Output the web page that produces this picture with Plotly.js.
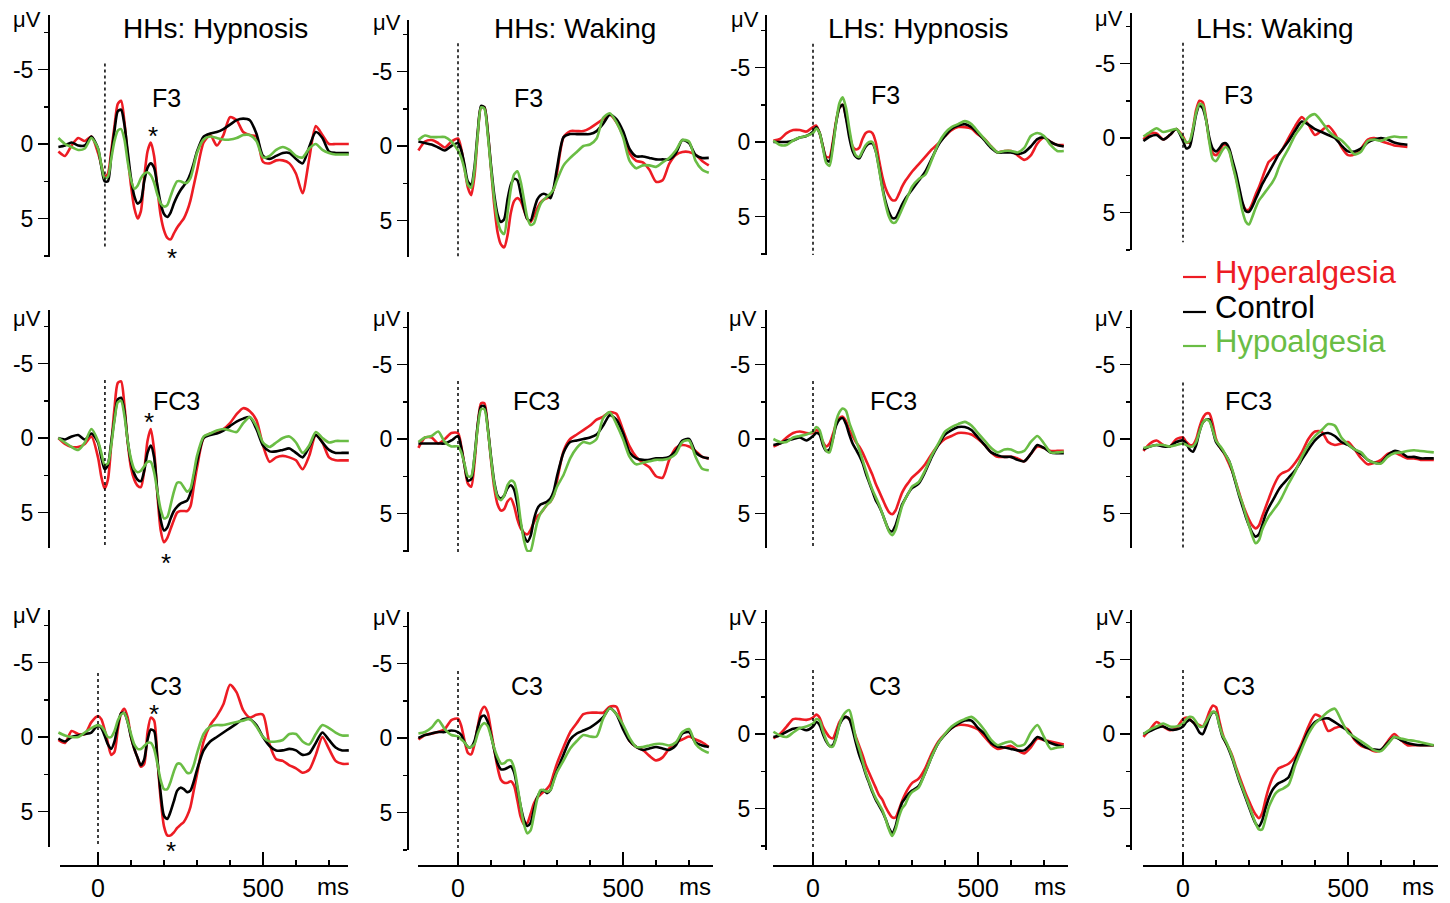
<!DOCTYPE html>
<html><head><meta charset="utf-8">
<script src="https://cdn.plot.ly/plotly-3.0.1.min.js"></script>
<style>html,body{margin:0;padding:0;background:#fff;}#chart{width:1450px;height:903px;}</style>
</head><body><div id="chart"></div>
<script>
// ---------------- DATA ----------------
const timeMs = [-120,-100,-80,-60,-40,-20,0,
 10,20,30,40,50,60,70,80,90,100,
 110,120,130,140,150,160,170,180,190,200,
 210,220,230,240,250,260,270,280,290,300,
 320,340,360,380,400,420,440,460,480,500,
 520,540,560,580,600,620,640,660,680,700,
 720,740,760];

const seriesNames = ['Hyperalgesia','Control','Hypoalgesia'];
const conditionTitles = ['HHs: Hypnosis','HHs: Waking','LHs: Hypnosis','LHs: Waking'];
const electrodeLabels = ['F3','FC3','C3'];
const xTickLabels = ['0','500'];
const yTickLabels = ['-5','0','5'];

// HHs: Hypnosis
const hhsHypF3Hyper = [0.5,0.8,0.1,-0.4,-0.2,-0.5,0.6,
 1.4,2.2,2.0,0.5,-1.2,-2.7,-2.9,-1.5,0.8,2.8,
 4.3,5.0,4.5,2.3,0.5,-0.1,0.8,3.0,4.8,5.8,
 6.3,6.4,6.0,5.6,5.3,5.0,4.5,3.8,2.8,1.8,
 -0.1,-0.6,0.1,-0.6,-1.8,-1.6,-0.8,-0.6,-0.5,1.2,
 1.3,1.1,1.1,1.3,2.0,3.3,1.0,-1.2,-0.6,0.0,
 0.0,0.0,0.0];
const hhsHypF3Control = [0.2,0.1,-0.1,0.1,0.1,-0.5,0.3,
 1.5,2.5,2.5,0.8,-0.9,-2.2,-2.3,-1.3,0.5,2.3,
 3.5,4.0,3.8,2.5,1.6,1.3,1.6,2.8,4.0,4.7,
 4.9,4.6,4.0,3.5,3.1,2.8,2.5,2.0,1.3,0.5,
 -0.5,-0.7,-0.8,-1.0,-1.3,-1.6,-1.7,-1.6,-0.7,0.8,
 1.0,0.8,0.6,0.6,1.0,1.3,0.2,-0.8,-0.4,0.5,
 0.6,0.6,0.6];
const hhsHypF3Hypo = [-0.4,0.0,0.2,0.4,0.3,-0.4,0.3,
 1.4,2.3,2.2,1.0,-0.2,-0.9,-1.0,-0.3,1.2,2.4,
 3.0,2.8,2.3,2.0,1.9,2.1,2.6,3.4,4.0,4.2,
 4.1,3.5,2.9,2.5,2.5,2.6,2.6,2.3,1.5,0.6,
 -0.3,-0.5,-0.4,-0.3,-0.3,-0.4,-0.6,-0.6,-0.2,0.9,
 0.8,0.4,0.2,0.4,0.8,0.9,0.3,0.0,0.4,0.6,
 0.7,0.7,0.7];
const hhsHypFC3Hyper = [0.0,0.4,0.6,0.6,0.4,-0.1,1.3,
 2.6,3.4,2.8,0.5,-2.0,-3.7,-3.8,-2.2,0.3,2.0,
 2.8,3.2,3.3,2.2,0.2,-0.6,0.8,3.8,6.2,7.0,
 6.7,6.1,5.5,5.0,4.9,4.9,4.9,4.6,3.3,2.0,
 0.0,-0.3,-0.4,-0.6,-1.0,-1.6,-2.0,-1.8,-1.2,0.5,
 1.6,1.3,1.2,1.3,1.5,2.1,1.2,-0.2,0.3,1.3,
 1.5,1.5,1.5];
const hhsHypFC3Control = [0.0,0.1,-0.1,-0.2,0.1,-0.3,0.3,
 1.3,2.1,1.8,0.3,-1.3,-2.6,-2.7,-1.8,0.2,1.6,
 2.4,2.8,2.9,2.2,1.0,0.5,1.3,3.6,5.5,6.2,
 6.0,5.4,4.9,4.6,4.4,4.3,4.2,3.7,2.6,1.6,
 0.0,-0.2,-0.3,-0.5,-0.8,-1.1,-1.3,-1.4,-0.6,0.5,
 0.9,0.9,0.8,0.7,1.0,1.3,0.6,-0.2,0.3,0.8,
 1.0,1.0,1.0];
const hhsHypFC3Hypo = [0.0,0.3,0.6,0.8,0.3,-0.6,0.2,
 1.0,1.8,1.7,0.5,-1.2,-2.4,-2.5,-1.5,0.2,1.4,
 2.1,2.3,2.2,1.9,1.6,1.6,2.3,3.6,4.8,5.4,
 5.3,4.5,3.6,3.0,3.0,3.3,3.6,3.4,2.4,1.2,
 -0.1,-0.3,-0.5,-0.6,-0.5,-0.4,-1.0,-1.4,-0.8,0.3,
 0.6,0.3,0.0,-0.1,0.3,1.0,0.5,-0.4,0.0,0.3,
 0.2,0.2,0.2];
const hhsHypC3Hyper = [0.2,0.4,-0.4,-0.2,-0.2,-1.0,-1.4,
 -1.2,-0.5,0.4,1.2,1.0,-0.5,-1.6,-1.9,-1.3,0.0,
 0.8,1.4,2.0,1.8,-0.3,-1.3,-1.1,1.5,4.2,6.0,
 6.6,6.6,6.4,6.1,5.9,5.7,5.3,4.7,3.6,2.5,
 0.3,-0.8,-1.4,-2.2,-3.5,-3.0,-1.8,-1.3,-1.5,-1.5,
 0.5,1.5,1.6,1.9,2.1,2.4,2.2,1.2,0.0,0.8,
 1.6,1.8,1.8];
const hhsHypC3Control = [0.1,0.3,0.0,-0.1,-0.2,-0.3,-0.8,
 -0.6,-0.1,0.5,0.8,0.3,-0.8,-1.6,-1.6,-1.0,0.0,
 0.8,1.4,1.9,1.5,0.2,-0.5,-0.4,1.5,3.8,5.3,
 5.5,5.0,4.3,3.6,3.4,3.5,3.7,3.6,3.0,2.2,
 0.9,0.3,0.0,-0.3,-0.6,-0.9,-1.2,-1.2,-0.8,0.0,
 0.6,0.9,0.9,0.8,0.9,1.2,1.1,0.4,-0.3,0.2,
 0.7,0.9,0.9];
const hhsHypC3Hypo = [-0.3,-0.1,0.0,0.0,-0.3,-0.6,-0.8,
 -0.7,-0.4,0.0,0.0,-0.4,-1.1,-1.5,-1.6,-1.0,-0.2,
 0.5,0.8,0.8,0.6,0.4,0.4,0.8,1.8,2.9,3.5,
 3.5,3.0,2.3,1.8,1.8,2.1,2.4,2.4,1.9,1.1,
 -0.2,-0.7,-0.8,-0.8,-0.9,-1.0,-1.1,-1.2,-0.7,0.0,
 0.3,0.3,0.2,-0.2,-0.2,0.3,0.5,-0.2,-0.8,-0.6,
 -0.3,-0.1,-0.1];

// HHs: Waking
const hhsWakF3Hyper = [0.3,-0.3,-0.4,-0.2,0.1,-0.3,-0.5,
 0.2,1.5,2.8,3.3,2.0,-0.8,-2.6,-2.6,-1.0,1.5,
 4.0,5.8,6.6,6.8,6.0,4.5,3.7,3.5,3.7,4.3,
 4.9,5.1,4.7,4.2,3.8,3.6,3.5,3.3,2.9,1.8,
 -0.6,-1.0,-1.0,-1.0,-1.2,-1.5,-1.8,-2.1,-1.6,-0.7,
 0.5,1.0,1.1,1.6,2.4,2.3,1.2,0.6,0.4,0.4,
 0.6,1.0,1.3];
const hhsWakF3Control = [-0.3,-0.2,-0.1,0.1,0.3,0.0,-0.2,
 0.3,1.3,2.4,2.6,1.4,-1.0,-2.7,-2.6,-1.0,1.3,
 3.3,4.6,5.1,4.9,3.6,2.6,2.2,2.3,3.2,4.2,
 4.9,5.0,4.3,3.6,3.3,3.2,3.3,3.5,2.8,1.5,
 -0.6,-0.8,-0.8,-0.8,-0.8,-1.0,-1.5,-2.1,-1.8,-1.0,
 0.2,0.7,0.7,0.8,0.9,0.9,0.9,0.5,-0.4,-0.2,
 0.6,0.8,0.8];
const hhsWakF3Hypo = [-0.4,-0.7,-0.6,-0.6,-0.6,-0.3,0.3,
 0.8,1.6,2.6,2.8,1.6,-0.8,-2.6,-2.5,-0.8,1.5,
 3.6,5.0,5.7,5.9,4.5,2.9,1.9,1.7,2.4,3.6,
 4.8,5.3,5.2,4.5,3.9,3.6,3.4,3.2,2.9,2.3,
 1.3,0.8,0.4,0.0,-0.1,-0.5,-1.9,-2.2,-1.6,-0.6,
 1.0,1.5,1.3,1.3,1.4,1.1,0.8,0.3,-0.4,-0.3,
 1.0,1.6,1.8];
const hhsWakFC3Hyper = [0.6,-0.1,-0.1,0.3,0.0,-0.4,-0.4,
 0.5,1.8,3.0,3.2,1.6,-1.0,-2.4,-2.4,-0.8,1.4,
 3.3,4.4,4.8,4.7,4.2,4.0,4.5,5.4,6.0,6.3,
 6.4,6.1,5.6,5.2,5.0,4.7,4.4,4.2,3.8,2.8,
 0.8,0.0,-0.3,-0.6,-0.9,-1.3,-1.5,-1.8,-1.7,-0.6,
 0.5,1.2,1.6,1.9,2.5,2.6,1.4,0.6,0.4,0.5,
 0.8,1.2,1.3];
const hhsWakFC3Control = [0.3,0.3,0.3,0.3,0.3,0.1,-0.2,
 0.6,1.8,2.8,2.7,1.2,-1.0,-2.2,-2.2,-0.8,1.2,
 2.9,3.8,4.0,3.8,3.3,3.1,3.4,4.4,5.7,6.5,
 6.9,6.5,5.4,4.7,4.4,4.3,4.2,4.0,3.5,2.5,
 0.9,0.2,0.1,0.0,-0.1,-0.3,-0.9,-1.6,-1.3,-0.4,
 0.9,1.3,1.4,1.4,1.3,1.3,1.2,0.8,0.1,0.0,
 0.9,1.2,1.3];
const hhsWakFC3Hypo = [0.2,-0.1,-0.2,-0.5,0.2,0.5,0.5,
 0.9,1.7,2.5,2.5,1.2,-0.8,-2.0,-2.0,-0.7,1.3,
 3.0,3.9,4.1,3.8,3.1,2.8,2.9,3.8,5.5,6.8,
 7.5,7.5,6.6,5.6,5.0,4.7,4.4,4.2,3.8,3.2,
 2.4,1.3,0.6,0.2,0.3,0.0,-1.4,-1.8,-1.0,0.0,
 1.2,1.7,1.6,1.5,1.4,1.4,1.3,1.0,0.2,0.1,
 1.2,2.0,2.1];
const hhsWakC3Hyper = [0.1,-0.2,-0.3,-0.4,-0.6,-1.2,-1.3,
 -0.8,0.2,1.0,1.1,0.4,-0.8,-1.8,-2.1,-1.7,-0.5,
 0.8,2.0,2.8,3.0,3.0,2.9,3.2,4.2,5.3,5.8,
 5.7,5.1,4.4,4.0,3.8,3.6,3.4,3.1,2.4,1.7,
 0.6,-0.4,-1.0,-1.6,-1.7,-1.7,-1.7,-2.1,-2.1,-0.8,
 0.2,0.6,0.8,1.2,1.5,1.3,0.7,0.3,0.1,-0.1,
 0.1,0.3,0.6];
const hhsWakC3Control = [0.0,-0.2,-0.3,-0.4,-0.4,-0.5,-0.4,
 -0.2,0.3,0.6,0.6,0.2,-0.7,-1.4,-1.5,-1.1,-0.2,
 0.8,1.7,2.1,2.1,2.0,1.9,2.3,3.4,4.6,5.5,
 5.9,5.7,4.8,4.0,3.6,3.5,3.7,3.5,2.8,2.2,
 1.1,0.1,-0.3,-0.5,-0.7,-1.0,-1.4,-2.0,-1.6,-0.6,
 0.2,0.6,0.8,0.7,0.6,0.7,0.8,0.5,-0.3,-0.4,
 0.3,0.5,0.6];
const hhsWakC3Hypo = [-0.3,-0.4,-0.7,-1.2,-0.6,-0.2,-0.1,
 0.1,0.3,0.6,0.6,0.4,-0.3,-0.8,-1.0,-0.8,-0.1,
 0.7,1.3,1.7,1.7,1.5,1.5,2.0,3.2,4.6,5.8,
 6.4,6.2,5.2,4.1,3.5,3.5,3.6,3.5,2.9,2.3,
 1.5,0.7,0.2,-0.2,-0.1,-0.1,-1.3,-2.0,-1.6,-0.9,
 0.0,0.6,0.6,0.5,0.4,0.4,0.5,0.3,-0.4,-0.6,
 0.4,0.8,1.0];

// LHs: Hypnosis
const lhsHypF3Hyper = [-0.1,-0.2,-0.6,-0.8,-0.8,-0.7,-1.0,
 -1.1,-0.6,0.3,1.0,1.0,0.0,-1.4,-2.3,-2.5,-1.7,
 -0.6,0.3,0.5,0.4,-0.2,-0.6,-0.7,-0.6,0.0,1.2,
 2.3,3.1,3.6,3.9,3.9,3.5,3.0,2.6,2.3,2.0,
 1.5,1.0,0.5,0.1,-0.4,-0.8,-1.0,-1.0,-0.9,-0.5,
 -0.2,0.3,0.7,0.6,0.6,0.9,1.2,0.9,0.1,-0.3,
 0.0,0.2,0.2];
const lhsHypF3Control = [0.0,0.0,0.0,-0.1,-0.3,-0.4,-0.7,
 -1.0,-0.6,0.3,1.2,1.3,0.2,-1.3,-2.3,-2.5,-1.6,
 -0.3,0.6,1.0,1.1,0.7,0.3,0.1,0.1,0.6,1.7,
 3.0,4.0,4.7,5.1,5.1,4.7,4.2,3.8,3.5,3.2,
 2.6,2.0,1.1,0.2,-0.4,-0.9,-1.1,-1.2,-1.0,-0.6,
 -0.1,0.4,0.7,0.7,0.7,0.8,0.7,0.3,-0.2,-0.3,
 0.0,0.2,0.3];
const lhsHypF3Hypo = [-0.1,0.2,0.2,-0.1,-0.3,-0.4,-0.6,
 -0.9,-0.6,0.4,1.4,1.6,0.4,-1.3,-2.6,-3.0,-2.3,
 -0.9,0.3,0.9,1.0,0.6,0.2,0.0,0.0,0.6,1.8,
 3.1,4.2,5.0,5.4,5.4,5.0,4.5,4.0,3.5,3.0,
 2.5,2.2,1.2,0.1,-0.6,-1.0,-1.2,-1.4,-1.2,-0.7,
 -0.2,0.3,0.7,0.6,0.6,0.7,0.4,-0.4,-0.6,-0.4,
 0.2,0.6,0.6];
const lhsHypFC3Hyper = [0.5,0.3,-0.1,-0.4,-0.5,-0.4,-0.4,
 -0.6,-0.4,0.2,0.5,0.3,-0.3,-1.0,-1.4,-1.5,-1.2,
 -0.6,-0.2,0.2,0.5,0.9,1.4,1.9,2.4,3.0,3.5,
 4.0,4.5,4.9,5.05,4.8,4.2,3.6,3.2,2.9,2.6,
 2.2,1.7,1.0,0.4,0.0,-0.2,-0.4,-0.4,-0.3,0.0,
 0.4,0.9,1.2,1.2,1.2,1.3,1.5,1.0,0.5,0.6,
 0.8,0.8,0.8];
const lhsHypFC3Control = [0.4,0.3,0.1,0.0,-0.1,0.1,-0.2,
 -0.4,-0.3,0.4,0.8,0.7,0.0,-0.9,-1.3,-1.4,-1.0,
 -0.3,0.3,0.7,1.1,1.6,2.3,2.9,3.5,4.1,4.5,
 5.0,5.6,6.1,6.2,5.8,5.1,4.4,4.0,3.6,3.3,
 3.0,2.2,1.2,0.4,-0.3,-0.6,-0.8,-0.8,-0.6,-0.1,
 0.4,0.9,1.1,1.2,1.2,1.4,1.5,1.0,0.4,0.6,
 0.9,0.95,0.95];
const lhsHypFC3Hypo = [0.0,0.2,0.2,-0.1,-0.2,-0.3,-0.5,
 -0.8,-0.6,0.2,0.8,0.9,0.1,-1.2,-1.8,-2.05,-1.9,
 -1.1,-0.5,0.1,0.7,1.4,2.1,2.8,3.4,3.9,4.4,
 5.0,5.6,6.2,6.45,6.1,5.3,4.5,4.0,3.6,3.2,
 2.9,2.1,1.1,0.3,-0.5,-0.8,-1.0,-1.15,-0.9,-0.4,
 0.1,0.6,0.9,0.7,0.7,0.9,0.8,0.2,-0.2,0.3,
 0.9,0.9,0.85];
const lhsHypC3Hyper = [0.3,0.0,-0.5,-1.0,-1.0,-0.95,-1.1,
 -1.3,-1.1,-0.5,-0.1,0.2,0.3,-0.2,-0.8,-1.1,-1.15,
 -1.0,-0.5,0.2,0.8,1.4,2.1,2.6,3.1,3.6,4.1,
 4.4,4.9,5.3,5.6,5.6,5.1,4.5,4.0,3.6,3.3,
 3.0,2.3,1.3,0.5,0.0,-0.4,-0.6,-0.6,-0.5,-0.3,
 0.2,0.7,1.0,0.9,0.8,1.1,1.3,0.9,0.3,0.4,
 0.5,0.6,0.7];
const lhsHypC3Control = [0.2,0.1,-0.15,-0.35,-0.4,-0.25,-0.5,
 -0.8,-0.6,0.0,0.5,0.8,0.75,0.2,-0.6,-1.0,-1.15,
 -1.0,-0.3,0.6,1.4,2.0,2.7,3.3,3.9,4.4,4.8,
 5.2,5.7,6.3,6.65,6.2,5.3,4.6,4.3,4.0,3.8,
 3.5,2.6,1.5,0.6,0.05,-0.4,-0.7,-0.9,-0.9,-0.4,
 0.0,0.6,0.85,0.9,1.0,1.1,1.1,0.7,0.2,0.4,
 0.6,0.75,0.85];
const lhsHypC3Hypo = [-0.15,0.1,0.2,-0.1,-0.4,-0.5,-0.7,
 -1.0,-0.9,-0.2,0.4,0.8,0.85,0.3,-0.6,-1.2,-1.5,
 -1.6,-0.8,0.3,1.0,1.8,2.6,3.2,3.8,4.3,4.7,
 5.1,5.7,6.4,6.85,6.4,5.6,5.0,4.7,4.2,3.9,
 3.6,2.6,1.5,0.6,0.0,-0.5,-0.8,-1.0,-1.15,-0.8,
 -0.25,0.4,0.75,0.6,0.5,0.8,0.7,-0.1,-0.6,0.2,
 1.0,0.9,0.85];

// LHs: Waking (F3 record ends near 680 ms)
const lhsWakF3Hyper = [0.1,-0.3,-0.3,0.1,-0.2,-0.6,-0.1,
 0.3,0.3,-0.6,-1.9,-2.5,-2.4,-1.3,0.2,1.0,1.15,
 0.9,0.5,0.45,0.8,1.7,2.6,3.6,4.4,4.8,4.8,
 4.4,3.8,3.3,2.7,2.1,1.6,1.4,1.2,1.1,0.8,
 0.0,-0.8,-1.4,-0.9,-0.2,-0.5,-0.8,-0.3,0.6,1.15,
 1.1,0.7,0.1,0.0,0.2,0.35,0.5,0.55,0.6];
const lhsWakF3Control = [0.2,-0.1,-0.2,0.1,-0.2,-0.6,0.2,
 0.7,0.6,-0.4,-1.6,-2.2,-2.0,-1.2,0.0,0.7,0.9,
 0.7,0.4,0.35,0.7,1.5,2.3,3.3,4.3,4.9,4.95,
 4.6,4.1,3.6,3.1,2.7,2.3,1.9,1.5,1.1,0.8,
 0.2,-0.5,-1.1,-0.9,-0.6,-0.4,-0.2,0.0,0.5,0.9,
 0.9,0.7,0.3,0.1,0.0,0.1,0.3,0.4,0.45];
const lhsWakF3Hypo = [-0.1,-0.4,-0.65,-0.4,-0.5,-0.6,0.0,
 0.3,0.2,-0.6,-1.7,-2.3,-2.2,-1.2,0.3,1.4,1.55,
 1.2,0.8,0.6,0.9,1.8,2.7,3.8,4.9,5.6,5.8,
 5.3,4.7,4.2,3.9,3.6,3.3,3.0,2.6,2.0,1.5,
 0.7,-0.2,-0.8,-1.4,-1.6,-1.1,-0.5,-0.1,0.15,0.6,
 1.1,0.9,0.2,0.1,0.2,0.0,-0.1,-0.05,-0.05];
const lhsWakFC3Hyper = [0.8,0.3,0.1,0.4,0.5,0.0,-0.1,
 0.2,0.4,0.4,0.0,-0.8,-1.4,-1.7,-1.7,-1.0,0.0,
 0.5,0.8,1.2,1.7,2.2,2.9,3.6,4.3,4.9,5.4,
 5.8,6.0,5.8,5.2,4.6,4.0,3.4,2.9,2.5,2.3,
 2.1,1.6,0.9,0.0,-0.5,-0.5,0.2,0.4,0.3,0.2,
 0.7,1.3,1.7,1.6,1.4,1.0,0.9,1.1,1.3,1.3,
 1.4,1.4,1.4];
const lhsWakFC3Control = [0.7,0.5,0.4,0.5,0.5,0.2,0.1,
 0.3,0.7,0.85,0.4,-0.5,-1.1,-1.3,-1.3,-0.6,0.2,
 0.5,0.8,1.1,1.5,2.2,3.0,3.8,4.5,5.2,5.8,
 6.3,6.55,6.4,5.8,5.1,4.6,4.2,3.8,3.4,3.1,
 2.6,2.1,1.4,0.7,0.1,-0.3,-0.4,-0.2,0.2,0.4,
 0.7,1.0,1.4,1.6,1.6,1.1,0.8,0.9,1.2,1.2,
 1.3,1.3,1.3];
const lhsWakFC3Hypo = [0.6,0.5,0.4,0.4,0.5,0.4,0.3,
 0.4,0.5,0.5,0.2,-0.5,-1.1,-1.3,-1.2,-0.6,0.1,
 0.4,0.7,1.1,1.5,2.1,2.9,3.7,4.3,5.1,5.8,
 6.5,7.0,6.8,6.1,5.6,5.2,4.9,4.6,4.3,3.9,
 3.0,2.2,1.2,0.4,-0.2,-0.6,-1.0,-0.9,-0.1,0.35,
 0.7,0.9,1.4,1.6,1.65,1.2,0.95,0.9,0.8,0.75,
 0.8,0.85,0.9];
const lhsWakC3Hyper = [0.2,-0.3,-0.8,-0.5,-0.25,-0.4,-1.0,
 -1.1,-1.0,-0.8,-0.7,-0.6,-0.5,-0.9,-1.5,-1.9,-1.8,
 -0.9,0.0,0.6,1.0,1.5,2.2,2.8,3.4,4.0,4.5,
 5.0,5.4,5.65,5.3,4.4,3.6,3.0,2.6,2.3,2.2,
 2.0,1.5,0.6,-0.5,-1.3,-1.1,-0.2,-0.4,-0.5,-0.3,
 0.4,0.8,0.95,1.15,1.1,0.5,0.0,0.4,0.75,0.75,
 0.75,0.75,0.75];
const lhsWakC3Control = [0.0,-0.2,-0.4,-0.5,-0.3,-0.3,-0.5,
 -0.8,-0.95,-0.8,-0.5,-0.1,0.0,-0.5,-1.1,-1.45,-1.4,
 -0.6,0.2,0.6,1.1,1.7,2.4,3.1,3.7,4.3,4.9,
 5.5,6.0,6.2,5.8,5.0,4.3,3.8,3.5,3.3,3.2,
 2.9,1.8,0.8,-0.2,-0.8,-1.0,-1.05,-0.8,-0.5,-0.2,
 0.3,0.7,0.95,1.05,1.05,0.6,0.2,0.4,0.6,0.7,
 0.75,0.75,0.75];
const lhsWakC3Hypo = [0.0,-0.3,-0.5,-0.7,-0.5,-0.5,-0.7,
 -1.0,-1.15,-1.1,-0.8,-0.5,-0.5,-0.8,-1.2,-1.5,-1.4,
 -0.6,0.1,0.5,1.0,1.6,2.3,3.0,3.6,4.2,4.8,
 5.4,6.0,6.4,6.4,5.7,4.9,4.4,4.0,3.8,3.7,
 3.4,2.1,1.0,0.0,-0.7,-1.1,-1.5,-1.7,-0.9,-0.1,
 0.2,0.5,0.8,1.1,1.15,0.7,0.2,0.3,0.4,0.45,
 0.55,0.65,0.75];

const panelSeries = [
  [[hhsHypF3Hyper,hhsHypF3Control,hhsHypF3Hypo],[hhsWakF3Hyper,hhsWakF3Control,hhsWakF3Hypo],[lhsHypF3Hyper,lhsHypF3Control,lhsHypF3Hypo],[lhsWakF3Hyper,lhsWakF3Control,lhsWakF3Hypo]],
  [[hhsHypFC3Hyper,hhsHypFC3Control,hhsHypFC3Hypo],[hhsWakFC3Hyper,hhsWakFC3Control,hhsWakFC3Hypo],[lhsHypFC3Hyper,lhsHypFC3Control,lhsHypFC3Hypo],[lhsWakFC3Hyper,lhsWakFC3Control,lhsWakFC3Hypo]],
  [[hhsHypC3Hyper,hhsHypC3Control,hhsHypC3Hypo],[hhsWakC3Hyper,hhsWakC3Control,hhsWakC3Hypo],[lhsHypC3Hyper,lhsHypC3Control,lhsHypC3Hypo],[lhsWakC3Hyper,lhsWakC3Control,lhsWakC3Hypo]]
];

// ---------------- LAYOUT / STYLE ----------------
const W = 1450, H = 903;
const FONT = 'Liberation Sans, Arial, sans-serif';
const COLORS = ['#ED1C24', '#000000', '#6ABD45'];
const PX_PER_MS = 0.33, PX_PER_UV = 14.9;
const colGeom = [
  {axisX: 50,   zeroX: 98,   rightX: 350,  line: [60, 348]},
  {axisX: 409,  zeroX: 458,  rightX: 718,  line: [418, 713]},
  {axisX: 767,  zeroX: 813,  rightX: 1076, line: [773, 1068]},
  {axisX: 1132, zeroX: 1183, rightX: 1438, line: [1143, 1438]}
];
const rowGeom = [
  [{top:15,bot:257,zero:144},{top:20,bot:257,zero:146},{top:15,bot:255,zero:142},{top:13,bot:250,zero:138}],
  [{top:310,bot:548,zero:438},{top:312,bot:552,zero:439},{top:310,bot:548,zero:439},{top:310,bot:548,zero:439}],
  [{top:610,bot:847,zero:737},{top:612,bot:850,zero:738},{top:610,bot:850,zero:734},{top:610,bot:850,zero:734}]
];
// onset marker (dotted line) position in ms and its vertical extent in µV
const onsetMark = [
  [{t:21,y0:-5.4,y1:6.9},{t:0,y0:-6.9,y1:7.6},{t:0,y0:-6.6,y1:7.6},{t:0,y0:-6.4,y1:7.0}],
  [{t:21,y0:-3.9,y1:8.0},{t:0,y0:-3.9,y1:7.9},{t:0,y0:-3.9,y1:7.9},{t:0,y0:-3.8,y1:7.7}],
  [{t:0,y0:-4.3,y1:7.4},{t:0,y0:-4.5,y1:7.7},{t:0,y0:-4.3,y1:7.6},{t:0,y0:-4.3,y1:7.7}]
];
const AX_LINE_Y = 865;

const px = v => v / W;
const py = v => 1 - v / H;

const traces = [];
const layout = {
  width: W, height: H,
  margin: {l:0, r:0, t:0, b:0},
  paper_bgcolor: '#ffffff', plot_bgcolor: 'rgba(0,0,0,0)',
  font: {family: FONT, color: '#000'},
  showlegend: false,
  shapes: [], annotations: []
};

let k = 0;
for (let r = 0; r < 3; r++) {
  for (let c = 0; c < 4; c++) {
    k++;
    const xa = k === 1 ? 'x' : 'x' + k, ya = k === 1 ? 'y' : 'y' + k;
    const cg = colGeom[c], rg = rowGeom[r][c];
    layout[k === 1 ? 'xaxis' : 'xaxis' + k] = {
      domain: [px(cg.axisX), px(cg.rightX)],
      range: [(cg.axisX - cg.zeroX) / PX_PER_MS, (cg.rightX - cg.zeroX) / PX_PER_MS],
      visible: false, anchor: ya, fixedrange: true
    };
    layout[k === 1 ? 'yaxis' : 'yaxis' + k] = {
      domain: [py(rg.bot), py(rg.top)],
      range: [(rg.bot - rg.zero) / PX_PER_UV, (rg.top - rg.zero) / PX_PER_UV],
      anchor: xa, showline: true, linewidth: 2, linecolor: '#000',
      ticks: 'outside', ticklen: 10, tickwidth: 1.5, tickcolor: '#000',
      tickmode: 'array', tickvals: [-5, 0, 5], ticktext: yTickLabels,
      minor: {tickmode: 'array', tickvals: [-7.5, -2.5, 2.5, 7.5], ticks: 'outside', ticklen: 4, tickwidth: 1.5, tickcolor: '#000'},
      showgrid: false, zeroline: false, fixedrange: true,
      tickfont: {size: 23, family: FONT, color: '#000'}
    };
    const series = panelSeries[r][c];
    for (let s = 0; s < 3; s++) {
      const ys = series[s];
      traces.push({
        type: 'scatter', mode: 'lines', xaxis: xa, yaxis: ya,
        x: timeMs.slice(0, ys.length), y: ys,
        name: seriesNames[s], legendgroup: seriesNames[s], showlegend: false,
        line: {color: COLORS[s], width: 2.6, shape: 'spline', smoothing: 0.7},
        hoverinfo: 'skip'
      });
    }
    const om = onsetMark[r][c];
    layout.shapes.push({type: 'line', xref: xa, yref: ya, x0: om.t, x1: om.t, y0: om.y0, y1: om.y1,
      line: {color: '#000', width: 1.5, dash: 'dot'}});
  }
}

// bottom time axes (detached, as in the figure)
for (let c = 0; c < 4; c++) {
  const kk = 13 + c;
  const cg = colGeom[c];
  layout['xaxis' + kk] = {
    domain: [px(cg.line[0]), px(cg.line[1])],
    range: [(cg.line[0] - cg.zeroX) / PX_PER_MS, (cg.line[1] - cg.zeroX) / PX_PER_MS],
    anchor: 'y' + kk, showline: true, linewidth: 2, linecolor: '#000',
    ticks: 'inside', ticklen: 13, tickwidth: 2, tickcolor: '#000',
    tickmode: 'array', tickvals: [0, 500], ticktext: xTickLabels,
    minor: {tickmode: 'array', tickvals: [100, 200, 300, 400, 600, 700], ticks: 'inside', ticklen: 5, tickwidth: 1.5, tickcolor: '#000'},
    showgrid: false, zeroline: false, fixedrange: true,
    tickfont: {size: 25, family: FONT, color: '#000'}, ticklabelstandoff: 0
  };
  layout['yaxis' + kk] = {domain: [py(AX_LINE_Y), py(AX_LINE_Y - 8)], range: [0, 1], visible: false, fixedrange: true};
  traces.push({type: 'scatter', mode: 'markers', x: [0], y: [0.5], xaxis: 'x' + kk, yaxis: 'y' + kk,
    marker: {opacity: 0}, showlegend: false, hoverinfo: 'skip'});
}

function ann(text, x, y, size, extra) {
  layout.annotations.push(Object.assign({text: text, x: px(x), y: py(y), xref: 'paper', yref: 'paper',
    showarrow: false, xanchor: 'center', yanchor: 'middle', borderpad: 0,
    font: {size: size, family: FONT, color: '#000'}}, extra || {}));
}
// column titles
const titlePos = [[216, 28], [575, 28], [918, 28], [1275, 28]];
conditionTitles.forEach((t, i) => ann(t, titlePos[i][0], titlePos[i][1], 28));
// electrode labels
const elecPos = [
  [[166, 98], [528, 98], [885, 95], [1238, 95]],
  [[176, 401], [536, 401], [893, 401], [1248, 401]],
  [[166, 686], [527, 686], [885, 686], [1239, 686]]
];
for (let r = 0; r < 3; r++) for (let c = 0; c < 4; c++) ann(electrodeLabels[r], elecPos[r][c][0], elecPos[r][c][1], 25);
// µV unit labels
const uvPos = [
  [[27, 20], [387, 22], [745, 20], [1109, 18]],
  [[27, 318], [387, 318], [743, 318], [1109, 318]],
  [[27, 615], [387, 617], [743, 617], [1110, 617]]
];
for (let r = 0; r < 3; r++) for (let c = 0; c < 4; c++) ann('μV', uvPos[r][c][0], uvPos[r][c][1], 22);
// ms unit labels
[[333, 886], [695, 886], [1050, 886], [1418, 886]].forEach(p => ann('ms', p[0], p[1], 24));
// significance asterisks
[[153, 136], [172, 258], [149, 422], [166, 563], [154, 714], [171, 851]].forEach(p => ann('*', p[0], p[1], 26));

// legend (coloured labels with short line keys, as in the figure)
const legendRows = [272, 307, 341];
seriesNames.forEach((nm, s) => {
  layout.shapes.push({type: 'line', xref: 'paper', yref: 'paper',
    x0: px(1183), x1: px(1206), y0: py(legendRows[s] + 5), y1: py(legendRows[s] + 5),
    line: {color: COLORS[s], width: 2.2}});
  ann(nm, 1214, legendRows[s], 31, {xanchor: 'left', font: {size: 31, family: FONT, color: COLORS[s]}});
});

Plotly.newPlot('chart', traces, layout, {displayModeBar: false, staticPlot: true});
</script>
</body></html>
